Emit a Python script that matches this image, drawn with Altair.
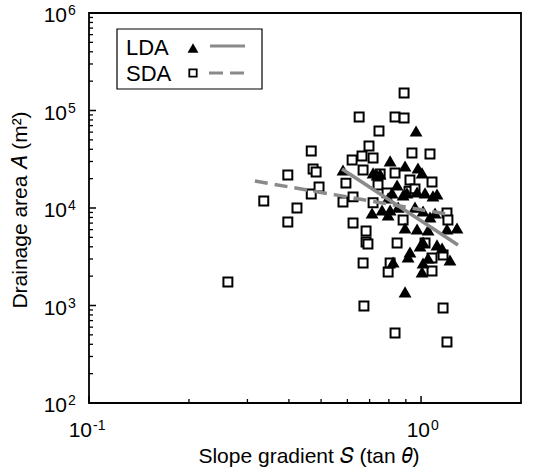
import altair as alt
import pandas as pd

# ---- data ----
lda_s = [0.582, 0.807, 0.895, 0.966, 0.717, 0.753, 0.979, 1.007, 0.847, 0.907, 0.973,
         1.028, 1.117, 0.818, 0.796, 0.807, 0.853, 0.712, 0.796, 0.959, 1.014, 1.102,
         0.895, 0.973, 1.050, 1.197, 1.283, 0.926, 0.993, 1.014, 1.117, 1.157, 1.222,
         1.050, 1.014, 1.007, 0.824, 0.914, 0.895, 0.883, 0.763, 1.064, 1.086, 0.737]
lda_a = [24500, 30400, 27000, 61600, 22900, 22300, 25700, 22900, 17200, 14300, 14600,
         14300, 13900, 14300, 12700, 9540, 10200, 8890, 8480, 10200, 9310, 8890,
         6240, 6090, 5950, 6090, 6240, 3540, 4080, 4480, 4180, 3890, 2930,
         3070, 2730, 2210, 2790, 3140, 1380, 13600, 9540, 8090, 13300, 21800]

sda_s = [0.262, 0.336, 0.397, 0.423, 0.397, 0.467, 0.493, 0.473, 0.483, 0.467, 0.582,
         0.594, 0.624, 0.624, 0.683, 0.620, 0.664, 0.717, 0.697, 0.747, 0.651, 0.835,
         0.889, 0.889, 0.939, 1.064, 0.669, 0.753, 0.835, 0.926, 1.079, 0.742, 0.920,
         0.790, 0.959, 1.197, 1.205, 0.883, 0.683, 0.692, 0.847, 1.028, 1.165, 0.673,
         0.835, 1.165, 1.197, 0.669, 0.796, 0.807, 1.079, 1.079, 0.717]
sda_a = [1740, 11800, 21800, 10000, 7180, 13900, 16400, 25100, 23400, 38400, 11500,
         18000, 13000, 7020, 5810, 31100, 34200, 32600, 43300, 61600, 85800, 85800,
         83800, 151000, 36700, 35800, 24500, 22300, 22900, 19400, 18500, 17200, 14900,
         14300, 15700, 8890, 7530, 7530, 4480, 4270, 4380, 4380, 3300, 988,
         522, 942, 423, 2730, 2210, 2730, 2260, 3070, 11300]

fit_lda_s = [0.578, 1.292]
fit_lda_a = [25100, 4180]
fit_sda_s = [0.316, 1.239]
fit_sda_a = [18900, 8480]

x_major = [0.1, 1.0]
x_minor = [0.2, 0.3, 0.4, 0.5, 0.6, 0.7, 0.8, 0.9]
x_exp = ["-1", "0"]
y_major = [1e2, 1e3, 1e4, 1e5, 1e6]
y_minor = [200, 300, 400, 500, 600, 700, 800, 900,
           2000, 3000, 4000, 5000, 6000, 7000, 8000, 9000,
           20000, 30000, 40000, 50000, 60000, 70000, 80000, 90000,
           200000, 300000, 400000, 500000, 600000, 700000, 800000, 900000]
y_exp = ["2", "3", "4", "5", "6"]

series_names = ["LDA", "SDA"]

W, H = 432, 390
FONT = "Liberation Sans"
GRAY = "#8a8a8a"

xs = alt.Scale(type="log", domain=[0.1, 2], nice=False)
ys = alt.Scale(type="log", domain=[100, 1e6], nice=False)

lda_df = pd.DataFrame({"S": lda_s, "A": lda_a})
sda_df = pd.DataFrame({"S": sda_s, "A": sda_a})
fl_df = pd.DataFrame({"S": fit_lda_s, "A": fit_lda_a})
fs_df = pd.DataFrame({"S": fit_sda_s, "A": fit_sda_a})

X = alt.X("S:Q", scale=xs, axis=None)
Y = alt.Y("A:Q", scale=ys, axis=None)

sda_pts = alt.Chart(sda_df).mark_point(
    shape="square", filled=True, fill="white", stroke="black",
    strokeWidth=2, size=80, opacity=1
).encode(x=X, y=Y)

lda_pts = alt.Chart(lda_df).mark_point(
    shape="triangle-up", filled=True, color="black", size=165, opacity=1
).encode(x=X, y=Y)

fit_l = alt.Chart(fl_df).mark_line(color=GRAY, strokeWidth=3.5).encode(x=X, y=Y)
fit_s = alt.Chart(fs_df).mark_line(color=GRAY, strokeWidth=3.5, strokeDash=[13, 7]).encode(x=X, y=Y)

# inward ticks
xt_min = alt.Chart(pd.DataFrame({"S": x_minor})).mark_rule(color="black", strokeWidth=1.3).encode(
    x=X, y=alt.value(H), y2=alt.value(H - 4))
xt_maj = alt.Chart(pd.DataFrame({"S": x_major})).mark_rule(color="black", strokeWidth=1.5).encode(
    x=X, y=alt.value(H), y2=alt.value(H - 7))
yt_min = alt.Chart(pd.DataFrame({"A": y_minor})).mark_rule(color="black", strokeWidth=1.3).encode(
    y=Y, x=alt.value(0), x2=alt.value(4))
yt_maj = alt.Chart(pd.DataFrame({"A": y_major})).mark_rule(color="black", strokeWidth=1.5).encode(
    y=Y, x=alt.value(0), x2=alt.value(7))

# tick labels: base "10" plus superscript exponent
xlab_df = pd.DataFrame({"S": x_major, "b": ["10"] * len(x_major), "e": x_exp})
xl_layers = []
for i, (dxb, dxe) in enumerate([(3, 4), (9, 10)]):
    sub = xlab_df.iloc[[i]]
    xl_layers.append(alt.Chart(sub).mark_text(
        font=FONT, fontSize=21, align="right", baseline="alphabetic", color="black", dx=dxb
    ).encode(x=X, y=alt.value(H + 34), text="b:N"))
    xl_layers.append(alt.Chart(sub).mark_text(
        font=FONT, fontSize=14, align="left", baseline="alphabetic", color="black", dx=dxe
    ).encode(x=X, y=alt.value(H + 27), text="e:N"))

ylab_df = pd.DataFrame({"A": y_major, "b": ["10"] * len(y_major), "e": y_exp})
yl_base = alt.Chart(ylab_df).mark_text(
    font=FONT, fontSize=21, align="right", baseline="alphabetic", color="black", dy=9
).encode(y=Y, x=alt.value(-22), text="b:N")
yl_exp = alt.Chart(ylab_df).mark_text(
    font=FONT, fontSize=14, align="left", baseline="alphabetic", color="black", dy=2
).encode(y=Y, x=alt.value(-21), text="e:N")

# axis titles
title_df = pd.DataFrame({"t": ["Slope gradient 𝑆 (tan 𝜃)"]})
xtitle = alt.Chart(title_df).mark_text(
    font=FONT, fontSize=21, align="center", baseline="alphabetic", color="black"
).encode(x=alt.value(220), y=alt.value(450), text="t:N")
ytitle_df = pd.DataFrame({"t": ["Drainage area 𝐴 (m²)"]})
ytitle = alt.Chart(ytitle_df).mark_text(
    font=FONT, fontSize=21, align="center", baseline="middle", angle=270, color="black"
).encode(x=alt.value(-68), y=alt.value(197), text="t:N")

# legend
leg_df = pd.DataFrame({"name": series_names})
box = alt.Chart(leg_df.head(1)).mark_rect(fill="white", stroke="black", strokeWidth=1.2).encode(
    x=alt.value(28), x2=alt.value(173), y=alt.value(16), y2=alt.value(76))
leg_t1 = alt.Chart(leg_df.iloc[[0]]).mark_text(font=FONT, fontSize=22, align="left", baseline="middle").encode(
    x=alt.value(37), y=alt.value(35), text="name:N")
leg_t2 = alt.Chart(leg_df.iloc[[1]]).mark_text(font=FONT, fontSize=22, align="left", baseline="middle").encode(
    x=alt.value(37), y=alt.value(61), text="name:N")
leg_tri = alt.Chart(leg_df.head(1)).mark_point(shape="triangle-up", filled=True, color="black", size=120, opacity=1).encode(
    x=alt.value(104), y=alt.value(35))
leg_sq = alt.Chart(leg_df.head(1)).mark_point(shape="square", filled=True, fill="white", stroke="black",
                                              strokeWidth=1.8, size=55, opacity=1).encode(
    x=alt.value(104), y=alt.value(60))
leg_l1 = alt.Chart(leg_df.head(1)).mark_rule(color=GRAY, strokeWidth=3).encode(
    x=alt.value(121), x2=alt.value(156), y=alt.value(33))
leg_l2 = alt.Chart(leg_df.head(1)).mark_rule(color=GRAY, strokeWidth=3, strokeDash=[14, 7]).encode(
    x=alt.value(120), x2=alt.value(156), y=alt.value(60))

chart = alt.layer(
    sda_pts, lda_pts, fit_l, fit_s,
    xt_min, xt_maj, yt_min, yt_maj, *xl_layers, yl_base, yl_exp, xtitle, ytitle,
    box, leg_t1, leg_t2, leg_tri, leg_sq, leg_l1, leg_l2
).properties(
    width=W, height=H,
    padding={"left": 89, "top": 13, "right": 38, "bottom": 67},
    autosize=alt.AutoSizeParams(type="none"),
    background="white",
).configure_view(stroke="black", strokeWidth=1.8)

chart.save("out.html", embed_options={"renderer": "svg", "actions": False})
